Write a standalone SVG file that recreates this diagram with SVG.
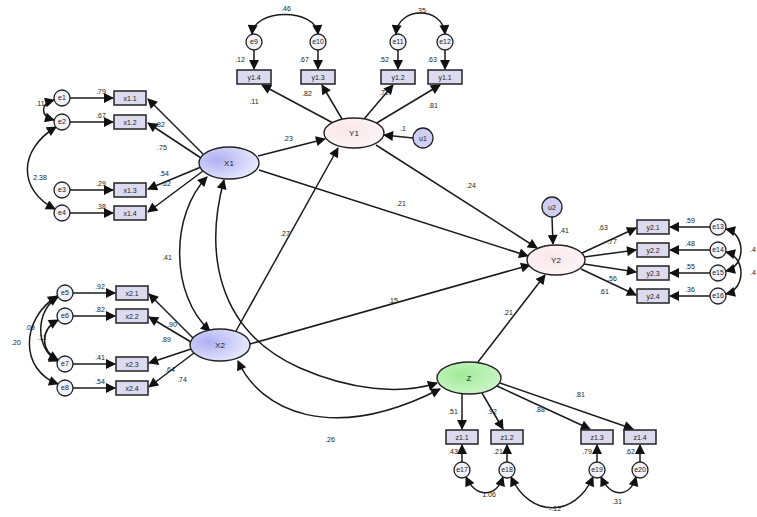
<svg xmlns="http://www.w3.org/2000/svg" width="757" height="517" viewBox="0 0 757 517">
<defs>
<marker id="ah" viewBox="0 0 10 10" refX="9" refY="5" markerWidth="11" markerHeight="10" orient="auto-start-reverse" markerUnits="userSpaceOnUse"><path d="M0,0 L10,5 L0,10 z" fill="#111"/></marker>
<radialGradient id="gx" cx="30%" cy="40%" r="80%"><stop offset="0" stop-color="#b0b0f2"/><stop offset="1" stop-color="#eef0ff"/></radialGradient>
<radialGradient id="gy" cx="40%" cy="40%" r="80%"><stop offset="0" stop-color="#fae6ea"/><stop offset="1" stop-color="#fff8f8"/></radialGradient>
<radialGradient id="gz" cx="40%" cy="40%" r="80%"><stop offset="0" stop-color="#a0ea98"/><stop offset="1" stop-color="#d8f8d4"/></radialGradient>
</defs>
<style>
.c line,.c path{stroke:#1a1a1a;stroke-width:1.5;fill:none;marker-end:url(#ah)}
.c .bi{marker-start:url(#ah)}
.box{fill:#dcdaee;stroke:#222;stroke-width:1.5}
.err{fill:#f2f2fa;stroke:#222;stroke-width:1.3}
.dist{fill:#cfcff4;stroke:#222;stroke-width:1.3}
.t{font-family:"Liberation Sans",Arial,sans-serif;font-size:7px;fill:#222;text-anchor:middle}
.n{font-family:"Liberation Sans",Arial,sans-serif;font-size:8px;fill:#222;text-anchor:middle}
.lv{stroke:#222;stroke-width:1.4}
</style>
<rect width="757" height="517" fill="#fff"/>

<g id="connectors" class="c">
<line x1="70" y1="98" x2="113" y2="98"/><line x1="70" y1="122" x2="113" y2="122"/>
<line x1="70" y1="190" x2="113" y2="190"/><line x1="70" y1="213" x2="113" y2="213"/>
<line x1="203" y1="154" x2="148" y2="99"/><line x1="201" y1="158" x2="148" y2="123"/>
<line x1="201" y1="167" x2="148" y2="189"/><line x1="203" y1="171" x2="148" y2="212"/>
<path class="bi" d="M54,100 C40,104 40,116 54,120"/>
<path class="bi" d="M56,127 C18,150 18,190 55,209"/>
<line x1="73" y1="293" x2="115" y2="293"/><line x1="73" y1="316" x2="115" y2="316"/>
<line x1="73" y1="364" x2="115" y2="364"/><line x1="73" y1="388" x2="115" y2="388"/>
<line x1="193" y1="338" x2="149" y2="294"/><line x1="191" y1="342" x2="149" y2="317"/>
<line x1="191" y1="349" x2="149" y2="363"/><line x1="194" y1="353" x2="149" y2="387"/>
<path class="bi" d="M58,297 C35,310 35,350 58,361"/>
<path class="bi" d="M58,320 C40,330 40,350 58,360"/>
<path class="bi" d="M57,296 C20,320 20,370 58,384"/>
<line x1="254" y1="50" x2="254" y2="69"/><line x1="318" y1="50" x2="318" y2="69"/>
<line x1="398" y1="50" x2="398" y2="69"/><line x1="445" y1="50" x2="445" y2="69"/>
<line x1="333" y1="123" x2="262" y2="85"/><line x1="342" y1="119" x2="322" y2="85"/>
<line x1="364" y1="119" x2="393" y2="85"/><line x1="375" y1="124" x2="440" y2="85"/>
<path class="bi" d="M252,34 C254,8 316,8 318,34"/>
<path class="bi" d="M396,34 C398,6 443,6 445,34"/>
<line x1="413" y1="138" x2="384" y2="135"/>
<line x1="710" y1="227" x2="670" y2="227"/><line x1="710" y1="250" x2="670" y2="250"/>
<line x1="710" y1="273" x2="670" y2="273"/><line x1="710" y1="296" x2="670" y2="296"/>
<line x1="582" y1="253" x2="636" y2="228"/><line x1="584" y1="257" x2="636" y2="250"/>
<line x1="584" y1="264" x2="636" y2="272"/><line x1="581" y1="269" x2="636" y2="295"/>
<path class="bi" d="M726,229 C746,234 746,266 726,271"/>
<path class="bi" d="M726,252 C746,257 746,289 726,294"/>
<line x1="552" y1="217" x2="553" y2="244"/>
<line x1="462" y1="462" x2="462" y2="445"/><line x1="507" y1="462" x2="507" y2="445"/>
<line x1="597" y1="462" x2="597" y2="445"/><line x1="640" y1="462" x2="640" y2="445"/>
<line x1="462" y1="394" x2="462" y2="429"/><line x1="482" y1="393" x2="503" y2="429"/>
<line x1="497" y1="386" x2="590" y2="429"/><line x1="500" y1="383" x2="633" y2="429"/>
<path class="bi" d="M466,477 C476,498 496,498 503,477"/>
<path class="bi" d="M511,477 C530,518 575,518 593,477"/>
<path class="bi" d="M601,477 C611,498 630,498 636,477"/>
<line x1="258" y1="156" x2="325" y2="139"/>
<line x1="259" y1="170" x2="528" y2="256"/>
<line x1="376" y1="145" x2="537" y2="248"/>
<line x1="236" y1="331" x2="338" y2="148"/>
<line x1="250" y1="344" x2="530" y2="265"/>
<line x1="478" y1="362" x2="545" y2="275"/>
<path class="bi" d="M207,177 C170,215 170,295 210,331"/>
<path class="bi" d="M224,180 C205,250 215,330 300,368 C350,390 400,395 437,383"/>
<path class="bi" d="M238,361 C260,410 330,445 440,389"/>
</g>

<g id="labels">
<text class="t" x="101" y="94">.79</text><text class="t" x="101" y="118">.67</text>
<text class="t" x="101" y="186">.29</text><text class="t" x="101" y="209">.38</text>
<text class="t" x="40" y="106">.11</text><text class="t" x="40" y="180">2.38</text>
<text class="t" x="160" y="127">.82</text><text class="t" x="162" y="150">.75</text>
<text class="t" x="164" y="176">.54</text><text class="t" x="166" y="186">.62</text>
<text class="t" x="100" y="289">.92</text><text class="t" x="100" y="312">.82</text>
<text class="t" x="100" y="360">.41</text><text class="t" x="100" y="384">.54</text>
<text class="t" x="172" y="327">.90</text><text class="t" x="166" y="342">.89</text>
<text class="t" x="170" y="372">.64</text><text class="t" x="182" y="382">.74</text>
<text class="t" x="16" y="345">.20</text><text class="t" x="30" y="330">.09</text><text class="t" x="42" y="340">.11</text>
<text class="t" x="240" y="62">.12</text><text class="t" x="304" y="62">.67</text>
<text class="t" x="384" y="62">.52</text><text class="t" x="432" y="62">.63</text>
<text class="t" x="286" y="11">.46</text><text class="t" x="421" y="13">.35</text>
<text class="t" x="254" y="104">.11</text><text class="t" x="307" y="96">.82</text>
<text class="t" x="384" y="95">.72</text><text class="t" x="433" y="108">.81</text>
<text class="t" x="403" y="131">.1</text>
<text class="t" x="690" y="223">.59</text><text class="t" x="690" y="246">.48</text>
<text class="t" x="690" y="269">.55</text><text class="t" x="690" y="292">.36</text>
<text class="t" x="603" y="230">.63</text><text class="t" x="612" y="244">.77</text>
<text class="t" x="612" y="281">.56</text><text class="t" x="604" y="294">.61</text>
<text class="t" x="753" y="252">.4</text><text class="t" x="753" y="275">.4</text>
<text class="t" x="564" y="233">.41</text>
<text class="t" x="453" y="414">.51</text><text class="t" x="492" y="414">.92</text>
<text class="t" x="540" y="412">.88</text><text class="t" x="580" y="397">.81</text>
<text class="t" x="453" y="454">.43</text><text class="t" x="498" y="454">.21</text>
<text class="t" x="587" y="454">.79</text><text class="t" x="630" y="454">.62</text>
<text class="t" x="489" y="497">1.06</text><text class="t" x="555" y="511">-.12</text><text class="t" x="617" y="504">.31</text>
<text class="t" x="288" y="141">.23</text><text class="t" x="401" y="206">.21</text>
<text class="t" x="471" y="188">.24</text><text class="t" x="285" y="236">.27</text>
<text class="t" x="393" y="303">.15</text><text class="t" x="508" y="315">.21</text>
<text class="t" x="167" y="260">.41</text><text class="t" x="330" y="442">.26</text>
</g>

<g id="X1"><ellipse cx="229" cy="163" rx="30" ry="16" fill="url(#gx)" class="lv"/><text class="n" x="229" y="166">X1</text></g>
<g id="X2"><ellipse cx="220" cy="345" rx="30" ry="16" fill="url(#gx)" class="lv"/><text class="n" x="220" y="348">X2</text></g>
<g id="Y1"><ellipse cx="354" cy="133" rx="30" ry="15" fill="url(#gy)" class="lv"/><text class="n" x="354" y="136">Y1</text></g>
<g id="Y2"><ellipse cx="556" cy="260" rx="29" ry="15" fill="url(#gy)" class="lv"/><text class="n" x="556" y="263">Y2</text></g>
<g id="Z"><ellipse cx="469" cy="378" rx="32" ry="16" fill="url(#gz)" class="lv"/><text class="n" x="469" y="381">Z</text></g>
<g id="u1"><circle cx="423" cy="138" r="10" class="dist"/><text class="t" x="423" y="141">u1</text></g>
<g id="u2"><circle cx="552" cy="207" r="10" class="dist"/><text class="t" x="552" y="210">u2</text></g>

<g id="x1_1"><rect x="114" y="91" width="32" height="14" class="box"/><text class="t" x="130" y="101">x1.1</text></g>
<g id="x1_2"><rect x="114" y="115" width="32" height="14" class="box"/><text class="t" x="130" y="125">x1.2</text></g>
<g id="x1_3"><rect x="114" y="183" width="32" height="14" class="box"/><text class="t" x="130" y="193">x1.3</text></g>
<g id="x1_4"><rect x="114" y="206" width="32" height="14" class="box"/><text class="t" x="130" y="216">x1.4</text></g>
<g id="e1"><circle cx="62" cy="98" r="8" class="err"/><text class="t" x="62" y="100">e1</text></g>
<g id="e2"><circle cx="62" cy="122" r="8" class="err"/><text class="t" x="62" y="124">e2</text></g>
<g id="e3"><circle cx="62" cy="190" r="8" class="err"/><text class="t" x="62" y="192">e3</text></g>
<g id="e4"><circle cx="62" cy="213" r="8" class="err"/><text class="t" x="62" y="215">e4</text></g>

<g id="x2_1"><rect x="116" y="286" width="32" height="14" class="box"/><text class="t" x="132" y="296">x2.1</text></g>
<g id="x2_2"><rect x="116" y="309" width="32" height="14" class="box"/><text class="t" x="132" y="319">x2.2</text></g>
<g id="x2_3"><rect x="116" y="357" width="32" height="14" class="box"/><text class="t" x="132" y="367">x2.3</text></g>
<g id="x2_4"><rect x="116" y="381" width="32" height="14" class="box"/><text class="t" x="132" y="391">x2.4</text></g>
<g id="e5"><circle cx="65" cy="293" r="8" class="err"/><text class="t" x="65" y="295">e5</text></g>
<g id="e6"><circle cx="65" cy="316" r="8" class="err"/><text class="t" x="65" y="318">e6</text></g>
<g id="e7"><circle cx="65" cy="364" r="8" class="err"/><text class="t" x="65" y="366">e7</text></g>
<g id="e8"><circle cx="65" cy="388" r="8" class="err"/><text class="t" x="65" y="390">e8</text></g>

<g id="y1_4"><rect x="237" y="70" width="34" height="14" class="box"/><text class="t" x="254" y="80">y1.4</text></g>
<g id="y1_3"><rect x="301" y="70" width="34" height="14" class="box"/><text class="t" x="318" y="80">y1.3</text></g>
<g id="y1_2"><rect x="381" y="70" width="34" height="14" class="box"/><text class="t" x="398" y="80">y1.2</text></g>
<g id="y1_1"><rect x="428" y="70" width="34" height="14" class="box"/><text class="t" x="445" y="80">y1.1</text></g>
<g id="e9"><circle cx="254" cy="42" r="8" class="err"/><text class="t" x="254" y="44">e9</text></g>
<g id="e10"><circle cx="318" cy="42" r="8" class="err"/><text class="t" x="318" y="44">e10</text></g>
<g id="e11"><circle cx="398" cy="42" r="8" class="err"/><text class="t" x="398" y="44">e11</text></g>
<g id="e12"><circle cx="445" cy="42" r="8" class="err"/><text class="t" x="445" y="44">e12</text></g>

<g id="y2_1"><rect x="637" y="220" width="32" height="14" class="box"/><text class="t" x="653" y="230">y2.1</text></g>
<g id="y2_2"><rect x="637" y="243" width="32" height="14" class="box"/><text class="t" x="653" y="253">y2.2</text></g>
<g id="y2_3"><rect x="637" y="266" width="32" height="14" class="box"/><text class="t" x="653" y="276">y2.3</text></g>
<g id="y2_4"><rect x="637" y="289" width="32" height="14" class="box"/><text class="t" x="653" y="299">y2.4</text></g>
<g id="e13"><circle cx="718" cy="227" r="8" class="err"/><text class="t" x="718" y="229">e13</text></g>
<g id="e14"><circle cx="718" cy="250" r="8" class="err"/><text class="t" x="718" y="252">e14</text></g>
<g id="e15"><circle cx="718" cy="273" r="8" class="err"/><text class="t" x="718" y="275">e15</text></g>
<g id="e16"><circle cx="718" cy="296" r="8" class="err"/><text class="t" x="718" y="298">e16</text></g>

<g id="z1_1"><rect x="446" y="430" width="32" height="14" class="box"/><text class="t" x="462" y="440">z1.1</text></g>
<g id="z1_2"><rect x="491" y="430" width="32" height="14" class="box"/><text class="t" x="507" y="440">z1.2</text></g>
<g id="z1_3"><rect x="581" y="430" width="32" height="14" class="box"/><text class="t" x="597" y="440">z1.3</text></g>
<g id="z1_4"><rect x="624" y="430" width="32" height="14" class="box"/><text class="t" x="640" y="440">z1.4</text></g>
<g id="e17"><circle cx="462" cy="470" r="8" class="err"/><text class="t" x="462" y="472">e17</text></g>
<g id="e18"><circle cx="507" cy="470" r="8" class="err"/><text class="t" x="507" y="472">e18</text></g>
<g id="e19"><circle cx="597" cy="470" r="8" class="err"/><text class="t" x="597" y="472">e19</text></g>
<g id="e20"><circle cx="640" cy="470" r="8" class="err"/><text class="t" x="640" y="472">e20</text></g>
</svg>
